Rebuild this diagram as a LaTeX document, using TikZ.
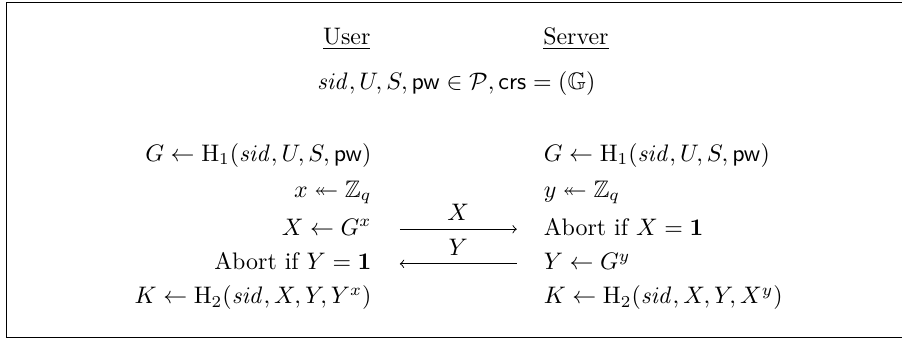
\documentclass[tikz,border=0pt]{standalone}
\usepackage{amsmath}
\usepackage{amssymb}
\usepackage{tikz}
\usetikzlibrary{arrows, calc, positioning}

\begin{document}
\begin{tikzpicture}
            \tikzset{lcol/.style={anchor=base east, inner sep=0pt},
                     rcol/.style={anchor=base west, inner sep=0pt},
                     msg/.style={->}}
            \useasboundingbox (0,0) rectangle (13.265,-4.985);
            % Frame around the protocol
            \draw[line width=0.5pt] (0.10,-0.04) rectangle (13.6,-4.96);

            % Parties and shared input
            \node[anchor=base, inner sep=0pt] (user) at (5.10,-0.65) {\underline{User}};
            \node[anchor=base, inner sep=0pt] (server) at (8.47,-0.65) {\underline{Server}};
            \node[anchor=base, inner sep=0pt] (shared) at (6.71,-1.32)
                {$\mathit{sid}, U, S, \mathsf{pw} \in \mathcal{P}, \mathsf{crs} = (\mathbb{G})$};

            % User side
            \node[lcol] (ug) at (5.47,-2.37) {$G \leftarrow \mathrm{H}_1(\mathit{sid}, U, S, \mathsf{pw})$};
            \node[lcol] (ux) at (5.47,-2.90) {$x \twoheadleftarrow \mathbb{Z}_q$};
            \node[lcol] (uX) at (5.47,-3.46) {$X \leftarrow G^x$};
            \node[lcol] (uab) at (5.47,-3.97) {Abort if $Y = \mathbf{1}$};
            \node[lcol] (uk) at (5.47,-4.47) {$K \leftarrow \mathrm{H}_2(\mathit{sid}, X, Y, Y^x)$};

            % Server side
            \node[rcol] (sg) at (7.99,-2.37) {$G \leftarrow \mathrm{H}_1(\mathit{sid}, U, S, \mathsf{pw})$};
            \node[rcol] (sy) at (7.99,-2.90) {$y \twoheadleftarrow \mathbb{Z}_q$};
            \node[rcol] (sab) at (7.99,-3.46) {Abort if $X = \mathbf{1}$};
            \node[rcol] (sY) at (7.99,-3.97) {$Y \leftarrow G^y$};
            \node[rcol] (sk) at (7.99,-4.47) {$K \leftarrow \mathrm{H}_2(\mathit{sid}, X, Y, X^y)$};

            % Messages
            \coordinate (xfrom) at (5.88,-3.37);
            \coordinate (xto) at (7.60,-3.37);
            \coordinate (yfrom) at (7.60,-3.88);
            \coordinate (yto) at (5.88,-3.88);
            \draw[msg] (xfrom) -- node[midway,above] {$X$} (xto);
            \draw[msg] (yfrom) -- node[midway,above] {$Y$} (yto);
        \end{tikzpicture}
\end{document}
